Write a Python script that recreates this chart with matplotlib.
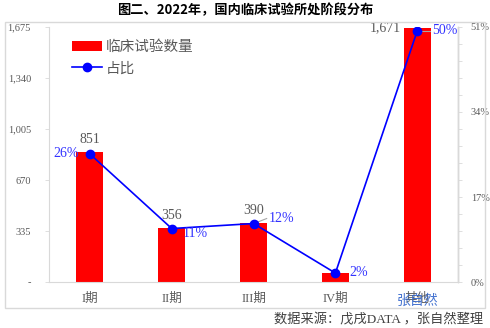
import matplotlib.pyplot as plt
import matplotlib.ticker as mticker
from matplotlib.patches import Rectangle
import numpy as np

plt.rcParams['font.family'] = ['Liberation Serif', 'Noto Sans CJK SC', 'DejaVu Sans']

# data
phases = ["I期", "II期", "III期", "IV期", "其他"]
counts = [851, 356, 390, 60, 1671]
shares = [0.256, 0.107, 0.117, 0.018, 0.502]
share_labels = ["26%", "11%", "12%", "2%", "50%"]
left_ticks = [0, 335, 670, 1005, 1340, 1675]
right_ticks = [0, 0.17, 0.34, 0.51]

grey = "#595959"
blue = "#0000ff"
lblue = "#3333ff"

fig = plt.figure(figsize=(4.9, 3.28), dpi=100)
fig.patches.append(Rectangle((0.011, 0.061), 0.978, 0.872, transform=fig.transFigure,
                             fill=False, edgecolor="#d9d9d9", linewidth=1))
ax = fig.add_axes([0.1, 0.14, 0.835, 0.778])
ax2 = ax.twinx()

x = np.arange(len(phases))
bars = ax.bar(x, counts, width=0.33, color="#ff0000", label="临床试验数量", zorder=2)
ax.set_ylim(0, 1675)
ax.set_xlim(-0.5, len(phases) - 0.5)
ax.set_yticks(left_ticks)
ax.set_yticklabels(["-"] + [f"{v:,}" for v in left_ticks[1:]])
ax.tick_params(axis="y", labelsize=7.5, colors=grey, length=3, width=0.6, pad=10,
               color="#d9d9d9")
ax.tick_params(axis="x", labelsize=9, colors=grey, length=0, pad=8)
ax.set_xticks(x)
ax.set_xticklabels(phases)

for s in ["top"]:
    ax.spines[s].set_visible(False)
    ax2.spines[s].set_visible(False)
ax.spines["left"].set_color("#d9d9d9")
ax.spines["bottom"].set_color("#d9d9d9")
ax2.spines["right"].set_color("#d9d9d9")
ax2.spines["left"].set_visible(False)
ax2.spines["bottom"].set_visible(False)

line, = ax2.plot(x, shares, color=blue, marker="o", markersize=6, linewidth=1.2,
                 label="占比", zorder=3)
ax2.set_ylim(0, 0.51)
ax2.set_yticks(right_ticks)
ax2.set_yticklabels(["0%", "17%", "34%", "51%"])
ax2.yaxis.set_minor_locator(mticker.MultipleLocator(0.034))
ax2.tick_params(axis="y", which="both", labelsize=7.5, colors=grey, length=3,
                width=0.6, color="#d9d9d9", pad=6)

# count labels
for i, v in enumerate(counts):
    if i == 3:
        continue
    if i == 4:
        ax.text(i - 0.2, v, f"{v:,}", ha="right", va="center", fontsize=10, color=grey)
    else:
        ax.text(i, v + 40, f"{v:,}", ha="center", va="bottom", fontsize=10, color=grey)

# share labels
offsets = [(-0.13, 0.0, "right"), (0.13, -0.01, "left"),
           (0.18, 0.01, "left"), (0.17, 0.002, "left"),
           (0.18, 0.0, "left")]
for i, (dx, dy, ha) in enumerate(offsets):
    ax2.text(i + dx, shares[i] + dy, share_labels[i], ha=ha, va="center", fontsize=10,
             color=lblue, zorder=4)
    if i in (2, 4):
        y0 = shares[i] + (0.003 if i == 2 else 0)
        y1 = shares[i] + (0.01 if i == 2 else 0)
        ax2.plot([i + 0.05, i + 0.16], [y0, y1], color="#a6a6a6", linewidth=0.8, zorder=2)

h1, l1 = ax.get_legend_handles_labels()
h2, l2 = ax2.get_legend_handles_labels()
leg = ax.legend(h1 + h2, l1 + l2, loc="upper left", bbox_to_anchor=(0.025, 1.0),
                frameon=False, fontsize=10.5, handlelength=2.0, handletextpad=0.3,
                labelspacing=0.5)
for t in leg.get_texts():
    t.set_color(grey)
    t.set_family(['Noto Sans CJK SC'])

fig.text(0.5, 0.968, "图二、2022年，国内临床试验所处阶段分布", ha="center", va="center",
         fontsize=9.5, fontweight="bold", family=['Noto Sans CJK SC'])
fig.text(0.853, 0.083, "张自然", ha="center", va="center", fontsize=10,
         color="#3366cc", alpha=0.9, family=['Noto Sans CJK SC'])
fig.text(0.985, 0.027, "数据来源：戊戌DATA ，张自然整理", ha="right", va="center",
         fontsize=9.5, color="#404040")

plt.savefig("out.png", dpi=100)
plt.close()
